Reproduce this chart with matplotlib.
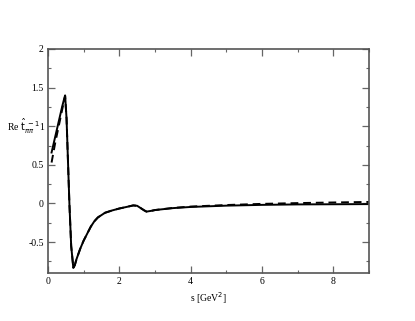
import matplotlib
matplotlib.use("Agg")
import matplotlib.pyplot as plt
from matplotlib.ticker import MultipleLocator
import numpy as np

s_solid = [0.1, 0.2, 0.3, 0.4, 0.45, 0.48, 0.52, 0.56, 0.6, 0.65, 0.71, 0.75, 0.8, 0.9, 1.0, 1.1, 1.2, 1.3, 1.4, 1.5,
           1.6, 1.8, 2.0, 2.2, 2.39, 2.5, 2.6, 2.7, 2.76, 2.9, 3.0, 3.5, 4.0, 5.0, 6.0, 7.0, 8.0, 9.0]
re_solid = [0.66, 0.86, 1.06, 1.26, 1.35, 1.40, 1.10, 0.55, 0.0, -0.55, -0.835, -0.80, -0.72, -0.59, -0.48, -0.39,
            -0.30, -0.23, -0.18, -0.15, -0.12, -0.09, -0.065, -0.045, -0.025, -0.03, -0.06, -0.09, -0.105, -0.095,
            -0.085, -0.06, -0.045, -0.028, -0.018, -0.012, -0.01, -0.008]

s_dash = [0.1, 0.2, 0.3, 0.4, 0.45, 0.48, 0.52, 0.56, 0.6, 0.65, 0.71, 0.75, 0.8, 0.9, 1.0, 1.1, 1.2, 1.3, 1.4, 1.5,
          1.6, 1.8, 2.0, 2.2, 2.39, 2.5, 2.6, 2.7, 2.76, 2.9, 3.0, 3.5, 4.0, 5.0, 6.0, 7.0, 8.0, 9.0]
re_dash = [0.53, 0.78, 1.0, 1.22, 1.33, 1.39, 1.10, 0.55, 0.0, -0.55, -0.83, -0.80, -0.72, -0.59, -0.48, -0.39,
           -0.30, -0.23, -0.18, -0.15, -0.12, -0.09, -0.065, -0.045, -0.025, -0.03, -0.06, -0.09, -0.105, -0.095,
           -0.085, -0.058, -0.04, -0.02, -0.005, 0.005, 0.013, 0.02]

plt.rcParams['font.family'] = ['Liberation Serif', 'DejaVu Serif']

fig = plt.figure(figsize=(4.15, 3.21), dpi=100)
ax = fig.add_axes([48/415, 1-273/321, 321/415, 224/321])

ax.plot(s_solid, re_solid, color='black', lw=1.4, solid_joinstyle='round')
ax.plot(s_dash, re_dash, color='black', lw=1.4, ls=(0, (4, 2.5)))

ax.set_xlim(0, 9)
ax.set_ylim(-0.9, 2)
ax.xaxis.set_major_locator(MultipleLocator(2))
ax.xaxis.set_minor_locator(MultipleLocator(1))
ax.yaxis.set_major_locator(MultipleLocator(0.5))
ax.yaxis.set_minor_locator(MultipleLocator(0.25))
ax.tick_params(which='both', direction='in', top=True, right=True, labelsize=7, color='#666666', pad=3)
ax.tick_params(which='major', length=5, width=0.9)
ax.tick_params(which='minor', length=2.5, width=0.8)
ax.set_xticks([0, 2, 4, 6, 8])
ax.set_xticklabels(['0', '2', '4', '6', '8'])
ax.set_yticks([-0.5, 0, 0.5, 1, 1.5, 2])
ax.set_yticklabels(['-0.5', '0', '0.5', '1', '1.5', '2'])
for sp in ax.spines.values():
    sp.set_color('#555555')
    sp.set_linewidth(1.2)

ax.set_xlabel(r's [GeV$^2$]', fontsize=7, labelpad=3)
fig.text(7/415, 1-126/321, r'Re $\hat{\mathrm{t}}_{\pi\pi}^{\ -1}$', fontsize=7, ha='left', va='center')

fig.savefig('out.png', dpi=100)
